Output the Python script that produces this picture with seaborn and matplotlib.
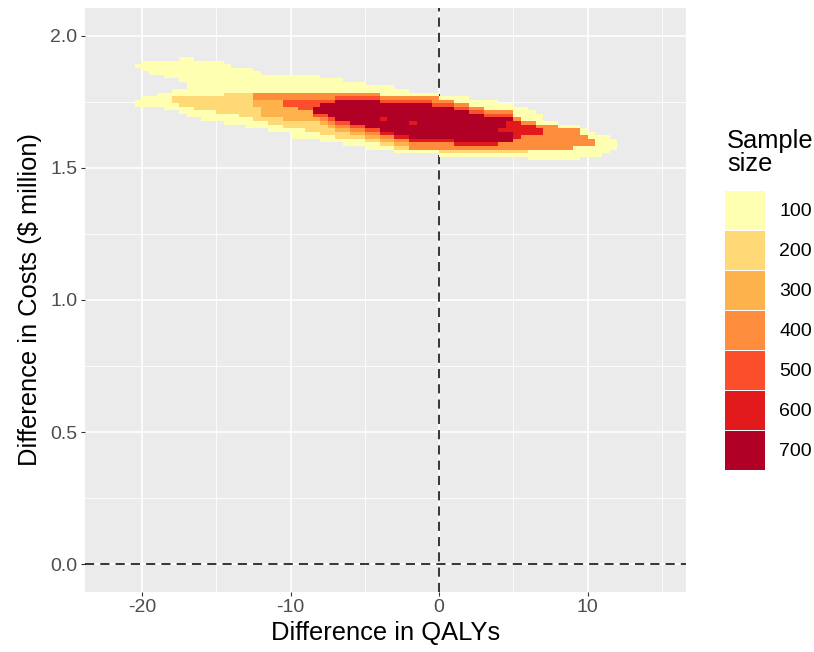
import numpy as np
import pandas as pd
import matplotlib
matplotlib.use("Agg")
import matplotlib.pyplot as plt
from matplotlib.colors import ListedColormap
from matplotlib.patches import Patch
import seaborn as sns

# binned sample-size grid
# one string per QALY column (left to right), one digit per cost row (top to bottom)
# digit k = the "k*100" sample-size band, 0 = empty cell
qaly_start, qaly_step = -21.0, 0.5
cost_top, cost_step = 1.9205, 0.01348
n_cost_rows = 29

size_columns = [
    "0000000000 0000000000 000000000",
    "0010000000 0011000000 000000000",
    "0111000000 0111000000 000000000",
    "0111100000 0111000000 000000000",
    "0111100000 1111000000 000000000",
    "0111110000 1111100000 000000000",
    "0111110001 1221100000 000000000",
    "1111111001 1222110000 000000000",
    "1111111111 1222111000 000000000",
    "0111111111 1222211000 000000000",
    "0111111111 1222211100 000000000",
    "0111111111 1222211100 000000000",
    "0111111111 1222221100 000000000",
    "0011111111 2222221110 000000000",
    "0001111111 2222221110 000000000",
    "0001111111 2222222110 000000000",
    "0001111111 2222222111 000000000",
    "0000111111 4433222211 000000000",
    "0000011111 4433333211 000000000",
    "0000011111 4433333221 100000000",
    "0000011111 4433333221 100000000",
    "0000011111 4455333322 100000000",
    "0000011111 4455333322 111000000",
    "0000011111 4455533322 111000000",
    "0000011111 4455533322 211000000",
    "0000011111 4455775322 211000000",
    "0000001111 4457775432 221100000",
    "0000001111 4457777543 221100000",
    "0000001111 4577777754 322100000",
    "0000000111 4577777754 322110000",
    "0000000111 4577777775 432110000",
    "0000000111 4577777775 432110000",
    "0000000011 4577777777 543211000",
    "0000000011 4577777777 543211000",
    "0000000011 1457777677 764321000",
    "0000000011 1457777777 764321000",
    "0000000001 1457777777 776432100",
    "0000000001 1457777777 776432100",
    "0000000000 1457777767 777644100",
    "0000000000 1457777777 777644100",
    "0000000000 1457777777 777644100",
    "0000000000 1445777777 777644100",
    "0000000000 0145777777 777644210",
    "0000000000 0145777777 777644210",
    "0000000000 0114577777 777764210",
    "0000000000 0114577777 777764210",
    "0000000000 0011457777 777764210",
    "0000000000 0011457777 777764210",
    "0000000000 0011145777 777764210",
    "0000000000 0011145777 777764210",
    "0000000000 0001145777 677744210",
    "0000000000 0001145766 677744210",
    "0000000000 0000111466 666444210",
    "0000000000 0000111146 664444210",
    "0000000000 0000011146 664444111",
    "0000000000 0000001114 664444111",
    "0000000000 0000000014 444444111",
    "0000000000 0000000014 444444111",
    "0000000000 0000000001 444444111",
    "0000000000 0000000001 444444111",
    "0000000000 0000000001 444441111",
    "0000000000 0000000000 114441110",
    "0000000000 0000000000 011441110",
    "0000000000 0000000000 001111110",
    "0000000000 0000000000 001111100",
    "0000000000 0000000000 000111000",
    "0000000000 0000000000 000000000",
    "0000000000 0000000000 000000000",
]

size_labels = ["100", "200", "300", "400", "500", "600", "700"]
size_colors = ["#FFFFB2", "#FED976", "#FEB24C", "#FD8D3C", "#FC4E2A", "#E31A1C", "#B10026"]

x_ticks = [-20, -10, 0, 10]
x_tick_labels = ["-20", "-10", "0", "10"]
x_minor = [-15, -5, 5, 15]
y_ticks = [0.0, 0.5, 1.0, 1.5, 2.0]
y_tick_labels = ["0.0", "0.5", "1.0", "1.5", "2.0"]
y_minor = [0.25, 0.75, 1.25, 1.75]

# one record per filled cell, weighted by its band
cells = []
for c, col in enumerate(size_columns):
    col = col.replace(" ", "")
    for r, ch in enumerate(col):
        if ch != "0":
            cells.append((qaly_start + qaly_step * (c + 0.5),
                          cost_top - cost_step * (r + 0.5), int(ch)))
df = pd.DataFrame(cells, columns=["qaly", "cost", "band"])

n_qaly_cols = len(size_columns)
qaly_range = (qaly_start, qaly_start + qaly_step * n_qaly_cols)
cost_range = (cost_top - cost_step * n_cost_rows, cost_top)

sns.set_theme(style="darkgrid")
plt.rcParams["font.family"] = ["Liberation Sans", "DejaVu Sans"]

fig = plt.figure(figsize=(8.14, 6.52), dpi=100)
ax = fig.add_axes([85 / 814, 1 - 592 / 652, 601 / 814, 584 / 652])
ax.set_facecolor("#EBEBEB")

ax.axvline(0, color="black", lw=1.1, ls=(0, (6, 4)), zorder=1)
ax.axhline(0, color="black", lw=1.1, ls=(0, (6, 4)), zorder=1)

sns.histplot(data=df, x="qaly", y="cost", weights="band",
             bins=(n_qaly_cols, n_cost_rows), binrange=(qaly_range, cost_range),
             cmap=ListedColormap(size_colors), vmin=0.5, vmax=7.5,
             ax=ax, zorder=2)

ax.set_xlim(-23.84, 16.63)
ax.set_ylim(-0.106, 2.106)

ax.set_xticks(x_ticks)
ax.set_xticklabels(x_tick_labels)
ax.set_yticks(y_ticks)
ax.set_yticklabels(y_tick_labels)
ax.set_xticks(x_minor, minor=True)
ax.set_yticks(y_minor, minor=True)

ax.grid(which="major", color="white", lw=1.2)
ax.grid(which="minor", color="white", lw=0.6)
ax.set_axisbelow(True)
for s in ax.spines.values():
    s.set_visible(False)

ax.tick_params(which="major", length=3.2, width=0.8, color="#333333",
               labelcolor="#4D4D4D", labelsize=14, pad=2.2,
               bottom=True, left=True)
ax.tick_params(which="minor", length=0)

ax.set_xlabel("Difference in QALYs", fontsize=18.4, color="black", labelpad=3)
ax.set_ylabel(r"Difference in Costs (\$ million)", fontsize=18.4, color="black", labelpad=6)

handles = [Patch(facecolor=c, edgecolor="none") for c in size_colors]
leg = fig.legend(handles, size_labels, loc="upper left",
                 bbox_to_anchor=(725 / 814, 1 - 191 / 652), bbox_transform=fig.transFigure,
                 frameon=False, fontsize=14, handlelength=2.06, handleheight=2.67,
                 labelspacing=0.077, handletextpad=0.72, borderpad=0, borderaxespad=0)
for t in leg.get_texts():
    t.set_color("black")
fig.text(727 / 814, 1 - 129 / 652, "Sample\nsize", fontsize=18.4, color="black",
         va="top", ha="left", linespacing=0.95)

fig.savefig("out.png", dpi=100)
